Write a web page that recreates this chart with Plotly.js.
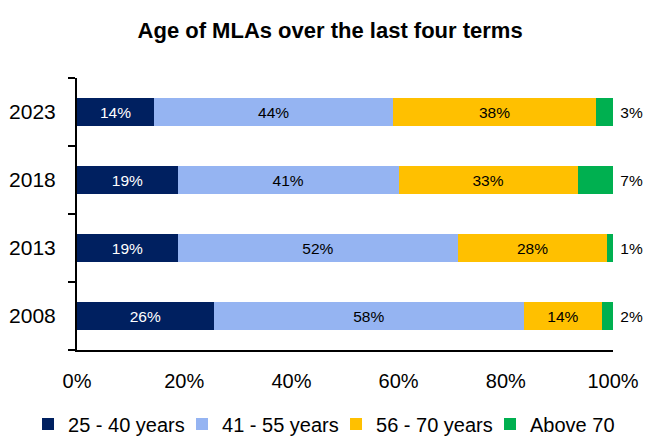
<!DOCTYPE html>
<html>
<head>
<meta charset="utf-8">
<script src="https://cdn.plot.ly/plotly-3.0.1.min.js"></script>
<style>html,body{margin:0;padding:0;background:#fff;overflow:hidden}#chart{width:646px;height:441px}</style>
</head>
<body>
<div id="chart"></div>
<script>
const years = ['2008', '2013', '2018', '2023'];
const seriesNames = ['25 - 40 years', '41 - 55 years', '56 - 70 years', 'Above 70'];
const age25to40 = [25.5, 18.8, 18.8, 14.4];
const age41to55 = [57.9, 52.3, 41.2, 44.6];
const age56to70 = [14.5, 27.8, 33.4, 37.8];
const above70 = [2.1, 1.1, 6.6, 3.2];
const labels25to40 = ['26%', '19%', '19%', '14%'];
const labels41to55 = ['58%', '52%', '41%', '44%'];
const labels56to70 = ['14%', '28%', '33%', '38%'];
const labelsAbove70 = ['2%', '1%', '7%', '3%'];
const xTickVals = [0, 20, 40, 60, 80, 100];
const xTickLabels = ['0%', '20%', '40%', '60%', '80%', '100%'];

const FONT = '"Liberation Sans", Arial, sans-serif';
const colors = ['#002060', '#95B4F2', '#FFC000', '#00B050'];
const values = [age25to40, age41to55, age56to70, above70];
const texts = [labels25to40, labels41to55, labels56to70, labelsAbove70.map(t => ' ' + t)];
const textColors = ['#ffffff', '#000000', '#000000', '#000000'];

const traces = values.map((v, i) => ({
  type: 'bar',
  orientation: 'h',
  name: seriesNames[i],
  y: years,
  x: v,
  text: texts[i],
  textposition: i === 3 ? 'outside' : 'inside',
  insidetextanchor: 'middle',
  constraintext: 'none',
  cliponaxis: false,
  textfont: {family: FONT, size: 15.5, color: textColors[i]},
  marker: {color: colors[i], line: {width: 0}},
  hoverinfo: 'none'
}));

const layout = {
  width: 646,
  height: 441,
  margin: {l: 77, r: 33, t: 78, b: 91, autoexpand: false},
  paper_bgcolor: '#ffffff',
  plot_bgcolor: '#ffffff',
  font: {family: FONT, size: 18, color: '#000000'},
  title: {
    text: 'Age of MLAs over the last four terms',
    font: {family: FONT, size: 22, color: '#000000', weight: 'bold'},
    x: 0.511, xref: 'container', xanchor: 'center',
    y: 0.932, yref: 'container', yanchor: 'middle'
  },
  barmode: 'stack',
  bargap: 0.588,
  showlegend: true,
  legend: {
    orientation: 'h',
    x: -0.0914, xanchor: 'left',
    y: -0.2, yanchor: 'top',
    entrywidth: 109,
    font: {family: FONT, size: 20, color: '#000000'},
    traceorder: 'normal',
    itemclick: false
  },
  xaxis: {
    range: [0, 100],
    tickmode: 'array',
    tickvals: xTickVals,
    ticktext: xTickLabels,
    showgrid: false,
    zeroline: false,
    showline: true,
    linecolor: '#000000',
    linewidth: 2,
    ticks: '',
    ticklabelstandoff: 12,
    tickfont: {family: FONT, size: 20, color: '#000000'},
    fixedrange: true
  },
  yaxis: {
    type: 'category',
    categoryorder: 'array',
    categoryarray: years,
    showgrid: false,
    zeroline: false,
    showline: true,
    linecolor: '#000000',
    linewidth: 2,
    ticks: 'outside',
    tickson: 'boundaries',
    ticklen: 7,
    tickwidth: 2,
    tickcolor: '#000000',
    ticklabelstandoff: 15,
    tickfont: {family: FONT, size: 21, color: '#000000'},
    fixedrange: true
  }
};

Plotly.newPlot('chart', traces, layout, {displayModeBar: false, staticPlot: true});
</script>
</body>
</html>
